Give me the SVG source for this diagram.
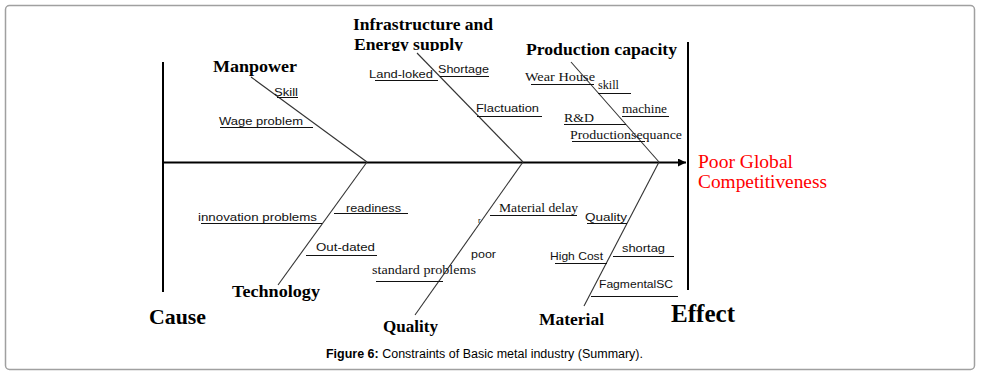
<svg xmlns="http://www.w3.org/2000/svg" width="986" height="384" viewBox="0 0 986 384">
<defs>
<style>
.bone{stroke:#333;stroke-width:1.1;fill:none}
.ul{stroke:#111;stroke-width:1}
.main{stroke:#000;stroke-width:2;fill:none}
.h{font-family:"Liberation Serif","Times New Roman",serif;font-weight:bold;font-size:16px;fill:#000}
.s{font-family:"Liberation Sans",Arial,sans-serif;font-size:11px;fill:#111}
.t{font-family:"Liberation Serif","Times New Roman",serif;font-size:13px;fill:#111}
.red{font-family:"Liberation Serif","Times New Roman",serif;font-size:18px;fill:#ff0000}
.cap{font-family:"Liberation Sans",Arial,sans-serif;font-size:12px;fill:#000}
</style>
<marker id="arr" viewBox="0 0 10 10" refX="10" refY="5" markerWidth="4" markerHeight="4" orient="auto" markerUnits="strokeWidth">
<path d="M0,0 L10,5 L0,10 z" fill="#000"/>
</marker>
<clipPath id="clipE"><rect x="340" y="30" width="200" height="21"/></clipPath>
</defs>
<rect x="5.5" y="5.5" width="969" height="364" rx="4" ry="4" fill="#fff" stroke="#a0a0a0" stroke-width="1.5"/>

<g id="connectors">
<line class="main" x1="163" y1="62" x2="163" y2="292"/>
<line class="main" x1="688" y1="42" x2="688" y2="290"/>
<line class="main" x1="163" y1="162.5" x2="686" y2="162.5" marker-end="url(#arr)"/>
<line class="bone" x1="251" y1="77" x2="367" y2="162"/>
<line class="bone" x1="417" y1="53" x2="523" y2="162"/>
<line class="bone" x1="571" y1="62" x2="659" y2="162"/>
<line class="bone" x1="367" y1="162" x2="278" y2="285"/>
<line class="bone" x1="523" y1="162" x2="415" y2="315"/>
<line class="bone" x1="659" y1="162" x2="584" y2="306"/>
</g>

<g id="cause"><text class="h" x="149" y="324" style="font-size:21px" textLength="57" lengthAdjust="spacingAndGlyphs">Cause</text></g>
<g id="effect"><text class="h" x="671" y="322" style="font-size:25px" textLength="64" lengthAdjust="spacingAndGlyphs">Effect</text></g>
<g id="problem">
<text class="red" x="698" y="168" textLength="95" lengthAdjust="spacingAndGlyphs">Poor Global</text>
<text class="red" x="698" y="188" textLength="129" lengthAdjust="spacingAndGlyphs">Competitiveness</text>
</g>

<g id="manpower">
<text class="h" x="213" y="72" textLength="84" lengthAdjust="spacingAndGlyphs">Manpower</text>
<text class="s" x="274" y="96" textLength="24" lengthAdjust="spacingAndGlyphs">Skill</text>
<line class="ul" x1="277" y1="97.5" x2="298" y2="97.5"/>
<text class="s" x="219" y="125" textLength="84" lengthAdjust="spacingAndGlyphs">Wage problem</text>
<line class="ul" x1="220" y1="127.5" x2="313" y2="127.5"/>
</g>

<g id="infrastructure">
<text class="h" x="353" y="30" textLength="140" lengthAdjust="spacingAndGlyphs">Infrastructure and</text>
<text class="h" x="354" y="50" textLength="109" lengthAdjust="spacingAndGlyphs" clip-path="url(#clipE)">Energy supply</text>
<text class="s" x="369" y="78" textLength="64" lengthAdjust="spacingAndGlyphs">Land-loked</text>
<line class="ul" x1="375" y1="80.5" x2="438" y2="80.5"/>
<text class="s" x="438" y="73" textLength="51" lengthAdjust="spacingAndGlyphs">Shortage</text>
<line class="ul" x1="440" y1="76.5" x2="489" y2="76.5"/>
<text class="s" x="476" y="112" textLength="63" lengthAdjust="spacingAndGlyphs">Flactuation</text>
<line class="ul" x1="477" y1="116.5" x2="542" y2="116.5"/>
</g>

<g id="production">
<text class="h" x="526" y="55" textLength="151" lengthAdjust="spacingAndGlyphs">Production capacity</text>
<text class="t" x="525" y="81" textLength="70" lengthAdjust="spacingAndGlyphs">Wear House</text>
<line class="ul" x1="531" y1="84.5" x2="594" y2="84.5"/>
<text class="t" x="598" y="89" textLength="21" lengthAdjust="spacingAndGlyphs">skill</text>
<line class="ul" x1="598" y1="93.5" x2="631" y2="93.5"/>
<text class="t" x="622" y="113" textLength="45" lengthAdjust="spacingAndGlyphs">machine</text>
<line class="ul" x1="622" y1="116.5" x2="669" y2="116.5"/>
<text class="t" x="564" y="122" textLength="30" lengthAdjust="spacingAndGlyphs">R&amp;D</text>
<line class="ul" x1="564" y1="124.5" x2="626" y2="124.5"/>
<text class="t" x="570" y="139" textLength="112" lengthAdjust="spacingAndGlyphs">Productionsequance</text>
<line class="ul" x1="572" y1="141.5" x2="645" y2="141.5"/>
</g>

<g id="technology">
<text class="h" x="232" y="297" textLength="88" lengthAdjust="spacingAndGlyphs">Technology</text>
<text class="s" x="198" y="221" textLength="119" lengthAdjust="spacingAndGlyphs">innovation problems</text>
<line class="ul" x1="201" y1="223.5" x2="322" y2="223.5"/>
<text class="s" x="346" y="212" textLength="55" lengthAdjust="spacingAndGlyphs">readiness</text>
<line class="ul" x1="334" y1="213.5" x2="408" y2="213.5"/>
<text class="s" x="316" y="251" textLength="59" lengthAdjust="spacingAndGlyphs">Out-dated</text>
<line class="ul" x1="306" y1="255.5" x2="377" y2="255.5"/>
</g>

<g id="quality">
<text class="h" x="383" y="332" textLength="55" lengthAdjust="spacingAndGlyphs">Quality</text>
<text class="t" x="499" y="212" textLength="79" lengthAdjust="spacingAndGlyphs">Material delay</text>
<line class="ul" x1="490" y1="215.5" x2="577" y2="215.5"/>
<text class="s" x="478" y="223" style="font-size:8px">r</text>
<text class="s" x="471" y="258" textLength="25" lengthAdjust="spacingAndGlyphs">poor</text>
<text class="t" x="372" y="274" textLength="104" lengthAdjust="spacingAndGlyphs">standard problems</text>
<line class="ul" x1="376" y1="281.5" x2="443" y2="281.5"/>
</g>

<g id="material">
<text class="h" x="539" y="325" textLength="65" lengthAdjust="spacingAndGlyphs">Material</text>
<text class="s" x="585" y="221" textLength="42" lengthAdjust="spacingAndGlyphs">Quality</text>
<line class="ul" x1="587" y1="223.5" x2="627" y2="223.5"/>
<text class="s" x="622" y="252" textLength="43" lengthAdjust="spacingAndGlyphs">shortag</text>
<line class="ul" x1="613" y1="256.5" x2="674" y2="256.5"/>
<text class="s" x="550" y="260" textLength="53" lengthAdjust="spacingAndGlyphs">High Cost</text>
<line class="ul" x1="555" y1="263.5" x2="607" y2="263.5"/>
<text class="s" x="599" y="288" textLength="74" lengthAdjust="spacingAndGlyphs">FagmentalSC</text>
<line class="ul" x1="591" y1="296.5" x2="678" y2="296.5"/>
</g>

<g id="caption">
<text class="cap" x="326" y="358" textLength="317" lengthAdjust="spacingAndGlyphs"><tspan font-weight="bold">Figure 6:</tspan> Constraints of Basic metal industry (Summary).</text>
</g>
</svg>
